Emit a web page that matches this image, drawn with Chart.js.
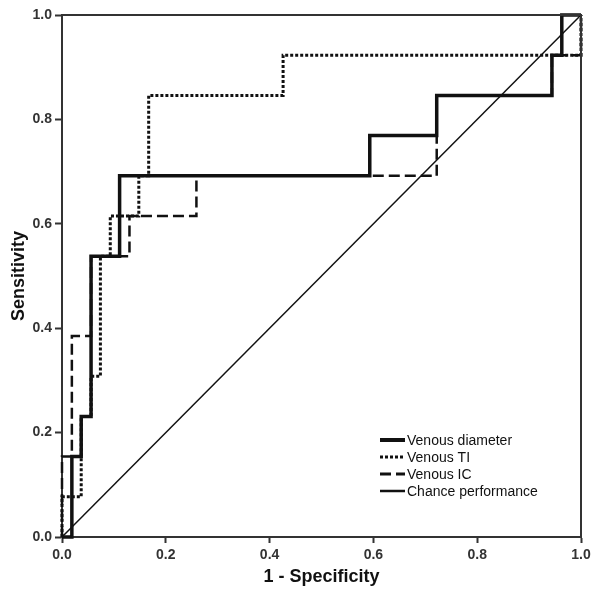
<!DOCTYPE html>
<html>
<head>
<meta charset="utf-8">
<script src="https://cdn.jsdelivr.net/npm/chart.js@4/dist/chart.umd.min.js"></script>
<style>
  html, body { margin: 0; padding: 0; background: #fff; }
  canvas { display: block; }
</style>
</head>
<body>
<canvas id="roc" width="600" height="605"></canvas>
<script>
// ROC vertices (1 - specificity, sensitivity)
const diameterX = [0, 0.019, 0.019, 0.037, 0.037, 0.056, 0.056, 0.111, 0.111, 0.593, 0.593, 0.722, 0.722, 0.944, 0.944, 0.963, 0.963, 1.0]
const diameterY = [0, 0, 0.154, 0.154, 0.231, 0.231, 0.538, 0.538, 0.692, 0.692, 0.769, 0.769, 0.846, 0.846, 0.923, 0.923, 1.0, 1.0]

const tiX = [0, 0, 0.037, 0.037, 0.056, 0.056, 0.074, 0.074, 0.093, 0.093, 0.148, 0.148, 0.167, 0.167, 0.426, 0.426, 1.0, 1.0]
const tiY = [0, 0.077, 0.077, 0.231, 0.231, 0.308, 0.308, 0.538, 0.538, 0.615, 0.615, 0.692, 0.692, 0.846, 0.846, 0.923, 0.923, 1.0]

const icX = [0, 0, 0.019, 0.019, 0.056, 0.056, 0.13, 0.13, 0.259, 0.259, 0.722, 0.722, 0.944, 0.944, 1.0, 1.0]
const icY = [0, 0.154, 0.154, 0.385, 0.385, 0.538, 0.538, 0.615, 0.615, 0.692, 0.692, 0.846, 0.846, 0.923, 0.923, 1.0]

const chanceX = [0, 1]
const chanceY = [0, 1]

const seriesNames = ['Venous diameter', 'Venous TI', 'Venous IC', 'Chance performance']
const tickValues = [0, 0.2, 0.4, 0.6, 0.8, 1.0]

function pts(xs, ys) {
    return xs.map((x, i) => ({ x: x, y: ys[i] }))
}

Chart.defaults.font.family = '"Liberation Sans", Arial, sans-serif'
Chart.defaults.color = '#222'

// box around the plot (top and right edges)
const frame = {
    id: 'frame',
    afterDatasetsDraw(chart) {
        const a = chart.chartArea
        const ctx = chart.ctx
        ctx.save()
        ctx.strokeStyle = '#333'
        ctx.lineWidth = 2
        ctx.beginPath()
        ctx.moveTo(a.left, a.top)
        ctx.lineTo(a.right, a.top)
        ctx.lineTo(a.right, a.bottom)
        ctx.stroke()
        ctx.restore()
    }
}

// legend drawn inside the plot, bottom right
const innerLegend = {
    id: 'innerLegend',
    afterDraw(chart) {
        const a = chart.chartArea
        const ctx = chart.ctx
        const x0 = a.left + 318
        let y = a.top + 425
        ctx.save()
        ctx.font = '14px "Liberation Sans", Arial, sans-serif'
        ctx.textBaseline = 'middle'
        chart.data.datasets.forEach(ds => {
            ctx.strokeStyle = '#111'
            ctx.lineWidth = ds.legendWidth || ds.borderWidth
            ctx.setLineDash(ds.borderDash || [])
            ctx.beginPath()
            ctx.moveTo(x0, y)
            ctx.lineTo(x0 + 25, y)
            ctx.stroke()
            ctx.setLineDash([])
            ctx.fillStyle = '#111'
            ctx.fillText(ds.label, x0 + 27, y + 1)
            y += 17
        })
        ctx.restore()
    }
}

const axisCommon = {
    type: 'linear',
    min: 0,
    max: 1,
    afterBuildTicks: s => { s.ticks = tickValues.map(v => ({ value: v })) },
    ticks: {
        callback: v => v.toFixed(1),
        font: { size: 14, weight: 'bold' },
        color: '#333'
    },
    grid: {
        drawOnChartArea: false,
        drawTicks: true,
        tickColor: '#333',
        tickWidth: 2
    },
    border: { display: true, color: '#333', width: 2 }
}

new Chart(document.getElementById('roc'), {
    type: 'scatter',
    data: {
        datasets: [{
            label: seriesNames[0],
            data: pts(diameterX, diameterY),
            borderColor: '#111',
            borderWidth: 3.5,
            legendWidth: 4
        }, {
            label: seriesNames[1],
            data: pts(tiX, tiY),
            borderColor: '#111',
            borderWidth: 3,
            borderDash: [3, 2]
        }, {
            label: seriesNames[2],
            data: pts(icX, icY),
            borderColor: '#111',
            borderWidth: 2.5,
            borderDash: [11, 5],
            legendWidth: 3
        }, {
            label: seriesNames[3],
            data: pts(chanceX, chanceY),
            borderColor: '#111',
            borderWidth: 1.5,
            legendWidth: 2.5
        }]
    },
    options: {
        responsive: false,
        animation: false,
        showLine: true,
        clip: 4,
        elements: {
            point: { radius: 0, hoverRadius: 0 },
            line: { tension: 0, borderCapStyle: 'butt', borderJoinStyle: 'miter' }
        },
        layout: { padding: { top: 15, right: 19, left: 0, bottom: 0 } },
        plugins: {
            legend: { display: false },
            tooltip: { enabled: false }
        },
        scales: {
            x: Object.assign({}, axisCommon, {
                ticks: Object.assign({}, axisCommon.ticks, { padding: 4 }),
                grid: Object.assign({}, axisCommon.grid, { tickLength: 6 }),
                title: {
                    display: true,
                    text: '1 - Specificity',
                    font: { size: 18, weight: 'bold' },
                    color: '#111',
                    padding: { top: 0, bottom: 17 }
                },
                afterFit: s => { s.height = 68 }
            }),
            y: Object.assign({}, axisCommon, {
                ticks: Object.assign({}, axisCommon.ticks, { padding: 3 }),
                grid: Object.assign({}, axisCommon.grid, { tickLength: 7 }),
                title: {
                    display: true,
                    text: 'Sensitivity',
                    font: { size: 18, weight: 'bold' },
                    color: '#111',
                    padding: { top: 8, bottom: 0 }
                },
                afterFit: s => { s.width = 62 }
            })
        }
    },
    plugins: [frame, innerLegend]
});
</script>
</body>
</html>
